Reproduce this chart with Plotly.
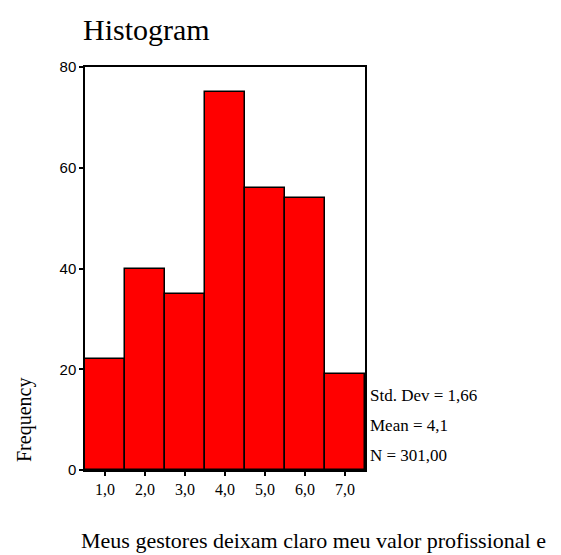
import plotly.graph_objects as go

categories = [1, 2, 3, 4, 5, 6, 7]
tick_labels = ["1,0", "2,0", "3,0", "4,0", "5,0", "6,0", "7,0"]
frequencies = [22, 40, 35, 75, 56, 54, 19]
y_ticks = [0, 20, 40, 60, 80]
stats_lines = ["Std. Dev = 1,66", "Mean = 4,1", "N = 301,00"]
title_text = "Histogram"
x_title = "Meus gestores deixam claro meu valor profissional e"
y_title = "Frequency"

serif = "Liberation Serif, Times New Roman, serif"
sans = "Liberation Sans, Arial, sans-serif"

# page body has an 8px margin, so the figure is sized/placed accordingly
W, H = 553, 547
L, T = 77, 59
PW, PH = 280, 403
R, B = W - L - PW, H - T - PH

fig = go.Figure()
fig.add_trace(go.Bar(
    x=categories, y=frequencies, width=1,
    marker=dict(color="#ff0000", line=dict(color="black", width=1.5)),
    showlegend=False, hoverinfo="x+y",
))

fig.update_layout(
    width=W, height=H,
    margin=dict(l=L, r=R, t=T, b=B),
    paper_bgcolor="white", plot_bgcolor="white",
    bargap=0,
    xaxis=dict(
        range=[0.5, 7.5], tickmode="array", tickvals=categories, ticktext=tick_labels,
        showline=True, mirror=True, linecolor="black", linewidth=1.5,
        ticks="outside", ticklen=4, tickwidth=2, tickcolor="black",
        showgrid=False, zeroline=False,
        tickfont=dict(family=serif, size=16, color="black"),
    ),
    yaxis=dict(
        range=[0, 80], tickmode="array", tickvals=y_ticks,
        showline=True, mirror=True, linecolor="black", linewidth=1.5,
        ticks="outside", ticklen=4, tickwidth=2, tickcolor="black",
        showgrid=False, zeroline=False,
        tickfont=dict(family=sans, size=15, color="black"),
    ),
)

def px_x(px):
    return (px - 8 - L) / PW

def px_y(py):
    return 1 - (py - 8 - T) / PH

annotations = [
    dict(text=title_text, xref="paper", yref="paper", x=px_x(81), y=px_y(29),
         xanchor="left", yanchor="middle", showarrow=False,
         font=dict(family=serif, size=30, color="black")),
    dict(text=x_title, xref="paper", yref="paper", x=px_x(313), y=px_y(540),
         xanchor="center", yanchor="middle", showarrow=False,
         font=dict(family=serif, size=22, color="black")),
    dict(text=y_title, xref="paper", yref="paper", x=px_x(24), y=px_y(420),
         xanchor="center", yanchor="middle", showarrow=False, textangle=-90,
         font=dict(family=serif, size=20, color="black")),
]
for i, line in enumerate(stats_lines):
    annotations.append(dict(
        text=line, xref="paper", yref="paper", x=px_x(368), y=px_y(395 + i * 30),
        xanchor="left", yanchor="middle", showarrow=False,
        font=dict(family=serif, size=17, color="black")))
fig.update_layout(annotations=annotations)

fig.write_html("out.html")
